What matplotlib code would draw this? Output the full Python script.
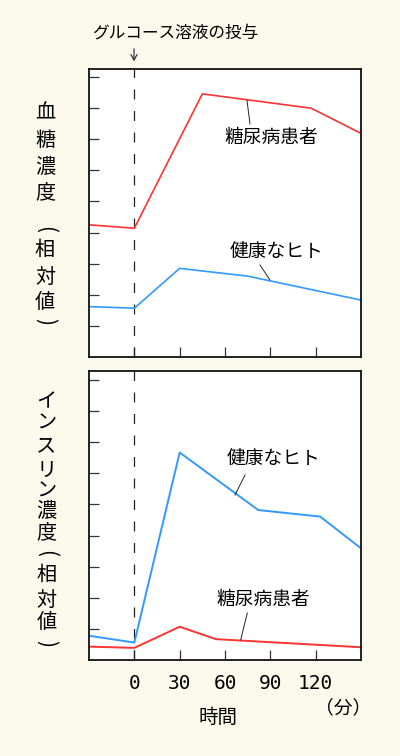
import matplotlib
matplotlib.use("Agg")
import matplotlib.pyplot as plt

plt.rcParams['font.family'] = ['Noto Sans CJK JP', 'DejaVu Sans']

# ---- data ----
glu_dia_t = [-30, 0, 45, 117, 150]
glu_dia_v = [4.25, 4.14, 8.46, 8.0, 7.19]
glu_hea_t = [-30, 0, 30, 75, 150]
glu_hea_v = [1.62, 1.57, 2.85, 2.60, 1.83]

ins_hea_t = [-30, 0, 30, 82, 123, 150]
ins_hea_v = [0.78, 0.56, 6.67, 4.82, 4.61, 3.59]
ins_dia_t = [-30, 0, 30, 54, 150]
ins_dia_v = [0.43, 0.39, 1.07, 0.67, 0.41]

xticks = [0, 30, 60, 90, 120]
xticklabels = ['0', '30', '60', '90', '120']
yticks = [1, 2, 3, 4, 5, 6, 7, 8, 9]

label_dia = '糖尿病患者'
label_hea = '健康なヒト'
ylabel_top = ['血', '糖', '濃', '度', '(', '相', '対', '値', ')']
ylabel_bot = ['イ', 'ン', 'ス', 'リ', 'ン', '濃', '度', '(', '相', '対', '値', ')']
xlabel = '時間'
unit = '（分）'
note = 'グルコース溶液の投与'

RED = '#ff3333'
BLUE = '#3399ff'
BG = '#fbf8ec'

W, H = 400, 756
fig = plt.figure(figsize=(W / 100, H / 100), dpi=100, facecolor=BG)


def px(x, y):
    return x / W, 1 - y / H


def make_ax(top, bottom, ymax):
    l, b = px(89, bottom)
    ax = fig.add_axes([l, b, 272 / W, (bottom - top) / H])
    ax.set_facecolor('white')
    ax.set_xlim(-30, 150)
    ax.set_ylim(0, ymax)
    ax.set_yticks(yticks)
    ax.set_yticklabels([])
    ax.set_xticks(xticks)
    ax.tick_params(direction='in', length=7, width=0.9, color='#333333')
    ax.tick_params(axis='x', pad=10)
    for s in ax.spines.values():
        s.set_linewidth(1.3)
        s.set_color('#111111')
    ax.axvline(0, color='#222222', lw=0.9, dashes=(8, 9.2))
    return ax


ax1 = make_ax(69, 357, 9.26)
ax1.set_xticklabels([])
ax1.plot(glu_dia_t, glu_dia_v, color=RED, lw=1.2)
ax1.plot(glu_hea_t, glu_hea_v, color=BLUE, lw=1.2)

ax2 = make_ax(371, 660, 9.29)
ax2.set_xticklabels(xticklabels, family='DejaVu Sans Mono', fontsize=14)
ax2.plot(ins_hea_t, ins_hea_v, color=BLUE, lw=1.4)
ax2.plot(ins_dia_t, ins_dia_v, color=RED, lw=1.4)


def leader(x0, y0, x1, y1):
    fig.add_artist(plt.Line2D([x0 / W, x1 / W], [1 - y0 / H, 1 - y1 / H],
                              transform=fig.transFigure, color='#222222', lw=0.7))


def ftext(x, y, s, size=13.5, **kw):
    fig.text(*px(x, y), s, ha='center', va='center', fontsize=size, **kw)


# labels on curves
ftext(271.5, 137, label_dia)
leader(247, 100.5, 250, 124)
ftext(276.5, 252, label_hea)
leader(260, 265, 270, 280)

ftext(273, 459, label_hea)
leader(245, 475, 235, 495)
ftext(263, 600, label_dia)
leader(247.3, 613, 240.7, 640)


def vchar(x, y, c):
    if c in '()':
        ftext(x, y, c, size=15, rotation=-90, rotation_mode='anchor')
    else:
        ftext(x, y, c, size=14.5)


# y-axis labels (vertical)
ty = [113, 141, 168, 193, 230, 250, 277, 302, 322]
for c, y in zip(ylabel_top, ty):
    vchar(45, y, c)
by = [401.5, 423, 447, 470, 491.5, 511.5, 533, 553, 575, 600, 623, 643]
for c, y in zip(ylabel_bot, by):
    vchar(46.5, y, c)

# x label and unit
ftext(218.5, 717, xlabel, size=14)
ftext(343, 708, unit, size=13.5)

# note with arrow
ftext(175, 33, note, size=12)
fig.add_artist(matplotlib.patches.FancyArrowPatch(
    px(134, 46), px(134, 64), transform=fig.transFigure,
    arrowstyle='->,head_length=4,head_width=2.2', color='#222222', lw=0.8,
    mutation_scale=1))

fig.savefig('out.png', dpi=100, facecolor=BG)
